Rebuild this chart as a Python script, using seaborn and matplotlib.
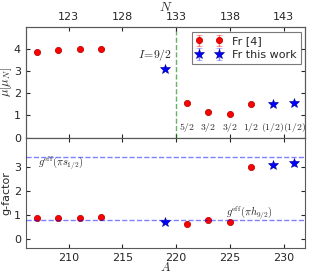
import numpy as np
import matplotlib
matplotlib.use('Agg')
from matplotlib import pyplot as plt
import seaborn as sns

# data
mass_lit = [207, 209, 211, 213, 221, 223, 225, 227]
mu_lit = [3.89, 3.95, 4.00, 4.02, 1.58, 1.17, 1.07, 1.50]
mu_lit_err = [0.03, 0.03, 0.03, 0.03, 0.03, 0.02, 0.02, 0.02]
g_lit = [0.864, 0.878, 0.889, 0.893, 0.632, 0.78, 0.713, 3.00]
g_lit_err = [0.01, 0.01, 0.01, 0.01, 0.01, 0.01, 0.01, 0.03]

mass_new = [219, 229, 231]
mu_new = [3.11, 1.53, 1.57]
mu_new_err = [0.08, 0.08, 0.08]
g_new = [0.69, 3.06, 3.14]
g_new_err = [0.03, 0.1, 0.1]

spin_mass = [221, 223, 225, 227, 229, 231]
spin_labels = ['5/2', '3/2', '3/2', '1/2', '(1/2)', '(1/2)']

g_eff_s = 3.40
g_eff_h = 0.78

sns.set_style('ticks', {'xtick.direction': 'in', 'ytick.direction': 'in',
                        'axes.edgecolor': '0.35'})
plt.rcParams['mathtext.fontset'] = 'cm'
plt.rcParams['font.size'] = 8

fig, (ax1, ax2) = plt.subplots(2, 1, sharex=True, figsize=(3.11, 2.71), dpi=100)
fig.subplots_adjust(left=0.083, right=0.981, top=0.900, bottom=0.085, hspace=0)

red_kw = dict(fmt='o', color='r', ms=4.5, mec='#aa0000', mew=0.5,
              ecolor=(1, 0, 0, 0.55), elinewidth=1, capsize=2)
blue_kw = dict(fmt='*', color='b', ms=7, mec='#000088', mew=0.4,
               ecolor=(0, 0, 1, 0.5), elinewidth=1, capsize=2)

# top panel - magnetic moments
ax1.errorbar(mass_lit, mu_lit, yerr=mu_lit_err, label='Fr [4]', **red_kw)
ax1.errorbar(mass_new, mu_new, yerr=mu_new_err, label='Fr this work', **blue_kw)
ax1.axvline(220, color='g', ls='--', lw=1, alpha=0.6)
ax1.text(218, 3.73, r'$I\!=\!9/2$', ha='center', va='center', fontsize=8.5)
for m, s in zip(spin_mass, spin_labels):
    ax1.text(m, 0.45, r'$%s$' % s, ha='center', va='center', fontsize=7)
ax1.set_ylim(0, 5)
ax1.set_yticks([0, 1, 2, 3, 4])
ax1.set_ylabel(r'$\mu[\mu_N]$', fontsize=9, labelpad=0)
ax1.tick_params(right=True, labelsize=8, length=3)
leg = ax1.legend(loc='upper right', numpoints=2, fontsize=8, fancybox=False,
                 handlelength=2.4, borderaxespad=0.4, labelspacing=0.35)
leg.get_frame().set_edgecolor('0.35')
leg.get_frame().set_linewidth(0.8)

# neutron number axis on top
ax_n = ax1.twiny()
ax_n.set_xlim(206 - 87, 232 - 87)
ax_n.set_xticks([123, 128, 133, 138, 143])
ax_n.tick_params(labelsize=8, length=3, direction='in')
ax_n.set_xlabel(r'$N$', fontsize=9.5, labelpad=1)

# bottom panel - g-factors
ax2.errorbar(mass_lit, g_lit, yerr=g_lit_err, **red_kw)
ax2.errorbar(mass_new, g_new, yerr=g_new_err, **blue_kw)
ax2.axhline(g_eff_s, color='b', ls='--', lw=1, alpha=0.5, zorder=5)
ax2.axhline(g_eff_h, color='b', ls='--', lw=1, alpha=0.5, zorder=5)
ax2.text(207.1, 3.12, r'$g^{\rm eff}(\pi s_{1/2})$', ha='left', va='center', fontsize=7.5)
ax2.text(224.6, 1.07, r'$g^{\rm eff}(\pi h_{9/2})$', ha='left', va='center', fontsize=7.5)
ax2.set_ylim(-0.37, 4.2)
ax2.set_yticks([0, 1, 2, 3])
ax2.set_ylabel('g-factor', fontsize=8, labelpad=2)
ax2.set_xlim(206, 232)
ax2.set_xticks([210, 215, 220, 225, 230])
ax2.tick_params(top=True, right=True, labelsize=8, length=3)
ax2.set_xlabel(r'$A$', fontsize=9, labelpad=-1)
ax1.tick_params(axis='x', bottom=True, length=3)

plt.savefig('out.png', dpi=100)
